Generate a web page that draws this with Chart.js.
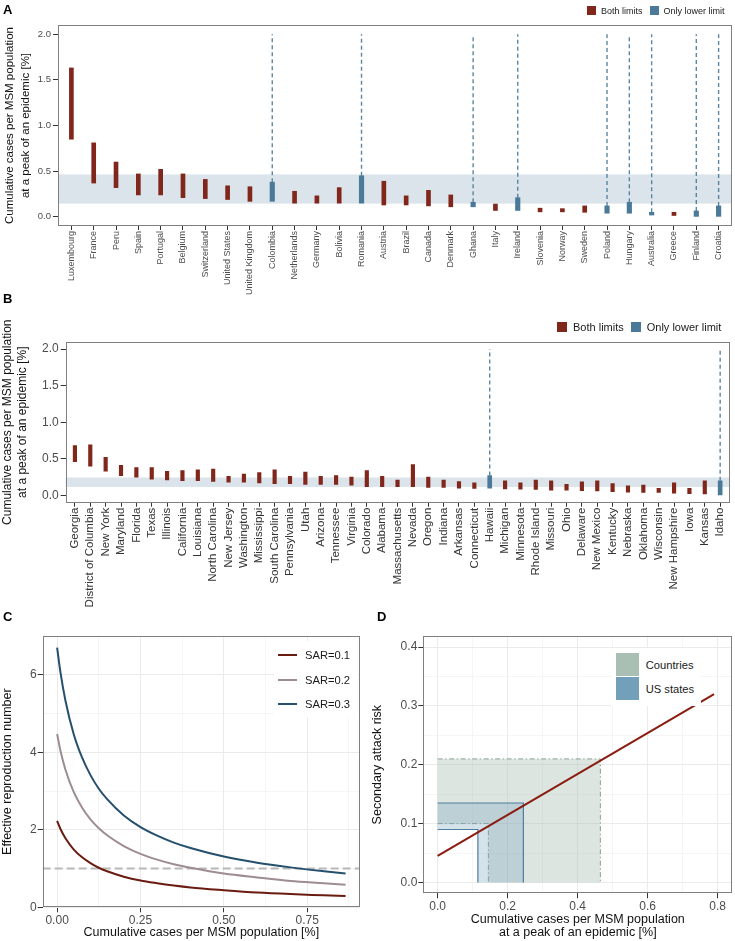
<!DOCTYPE html>
<html><head><meta charset="utf-8">
<script src="https://cdn.jsdelivr.net/npm/chart.js@4.4.1/dist/chart.umd.min.js"></script>
<style>
body{margin:0;background:#fff;width:735px;height:941px;position:relative;overflow:hidden;font-family:"Liberation Sans",Arial,Helvetica,sans-serif;}
canvas{position:absolute;}
.letter{position:absolute;font-weight:bold;font-size:13px;line-height:13px;color:#000;}
.leg{position:absolute;display:flex;align-items:center;color:#1a1a1a;white-space:nowrap;}
.sw{display:inline-block;flex:none;}
.box{position:absolute;background:#fff;}
.row{position:absolute;display:flex;align-items:center;color:#1a1a1a;white-space:nowrap;}
</style></head><body>
<canvas id="cA" width="735" height="300" style="left:0;top:0"></canvas>
<canvas id="cB" width="735" height="312" style="left:0;top:300px"></canvas>
<canvas id="cC" width="367" height="316" style="left:0;top:625px"></canvas>
<canvas id="cD" width="368" height="316" style="left:367px;top:625px"></canvas>

<div class="letter" style="left:3px;top:3.3px">A</div>
<div class="letter" style="left:3px;top:291.6px">B</div>
<div class="letter" style="left:3px;top:610.3px">C</div>
<div class="letter" style="left:377px;top:610.3px">D</div>

<div class="leg" style="left:587px;top:4px;height:13px;font-size:9px">
  <span class="sw" style="width:9px;height:9px;background:#80261b"></span><span style="margin-left:5px">Both limits</span>
  <span class="sw" style="width:9px;height:9px;background:#4a7a98;margin-left:7px"></span><span style="margin-left:5px">Only lower limit</span>
</div>
<div class="leg" style="left:557px;top:320px;height:14px;font-size:11px">
  <span class="sw" style="width:10px;height:10px;background:#80261b"></span><span style="margin-left:6px">Both limits</span>
  <span class="sw" style="width:10px;height:10px;background:#4a7a98;margin-left:7px"></span><span style="margin-left:6px">Only lower limit</span>
</div>

<div class="box" style="left:274px;top:641px;width:84px;height:76px"></div>
<div class="row" style="left:278px;top:647px;height:16px;font-size:11.2px"><span class="sw" style="width:19px;height:2px;background:#6a1b10"></span><span style="margin-left:8px">SAR=0.1</span></div>
<div class="row" style="left:278px;top:671.5px;height:16px;font-size:11.2px"><span class="sw" style="width:19px;height:2px;background:#9d8c93"></span><span style="margin-left:8px">SAR=0.2</span></div>
<div class="row" style="left:278px;top:696px;height:16px;font-size:11.2px"><span class="sw" style="width:19px;height:2px;background:#24506e"></span><span style="margin-left:8px">SAR=0.3</span></div>

<div class="box" style="left:611px;top:648px;width:90px;height:58px"></div>
<div class="row" style="left:615.7px;top:653.3px;height:23px;font-size:11.2px"><span class="sw" style="width:23px;height:23px;background:#a9bfb3"></span><span style="margin-left:7px">Countries</span></div>
<div class="row" style="left:615.7px;top:677.3px;height:23px;font-size:11.2px"><span class="sw" style="width:23px;height:23px;background:#72a0ba"></span><span style="margin-left:7px">US states</span></div>

<script>
// ---------- DATA ----------
const countries = ['Luxembourg','France','Peru','Spain','Portugal','Belgium','Switzerland','United States','United Kingdom','Colombia','Netherlands','Germany','Bolivia','Romania','Austria','Brazil','Canada','Denmark','Ghana','Italy','Ireland','Slovenia','Norway','Sweden','Poland','Hungary','Australia','Greece','Finland','Croatia'];
const countryLow  = [0.85,0.37,0.32,0.24,0.24,0.21,0.20,0.19,0.17,0.17,0.15,0.15,0.15,0.15,0.13,0.13,0.12,0.11,0.11,0.07,0.07,0.055,0.055,0.05,0.04,0.04,0.02,0.015,0.005,0.0];
const countryHigh = [1.63,0.81,0.60,0.47,0.52,0.47,0.41,0.34,0.33,0.38,0.28,0.23,0.32,0.45,0.39,0.23,0.29,0.24,0.16,0.14,0.21,0.095,0.09,0.12,0.12,0.16,0.05,0.05,0.065,0.12];
const countryBoth = [1,1,1,1,1,1,1,1,1,0,1,1,1,0,1,1,1,1,0,1,0,1,1,1,0,0,0,1,0,0];
const countryBand = [0.145, 0.465];

const states = ['Georgia','District of Columbia','New York','Maryland','Florida','Texas','Illinois','California','Louisiana','North Carolina','New Jersey','Washington','Mississippi','South Carolina','Pennsylvania','Utah','Arizona','Tennessee','Virginia','Colorado','Alabama','Massachusetts','Nevada','Oregon','Indiana','Arkansas','Connecticut','Hawaii','Michigan','Minnesota','Rhode Island','Missouri','Ohio','Delaware','New Mexico','Kentucky','Nebraska','Oklahoma','Wisconsin','New Hampshire','Iowa','Kansas','Idaho'];
const stateHigh = [0.68,0.69,0.52,0.41,0.38,0.38,0.33,0.34,0.35,0.36,0.26,0.29,0.31,0.35,0.26,0.32,0.26,0.27,0.25,0.34,0.26,0.21,0.42,0.25,0.21,0.19,0.17,0.27,0.20,0.17,0.21,0.20,0.15,0.185,0.20,0.16,0.13,0.14,0.095,0.17,0.095,0.20,0.20];
const stateLow  = [0.46,0.40,0.33,0.27,0.25,0.22,0.21,0.20,0.20,0.19,0.18,0.18,0.17,0.16,0.16,0.15,0.15,0.15,0.14,0.12,0.12,0.12,0.12,0.11,0.11,0.10,0.095,0.10,0.09,0.086,0.08,0.07,0.07,0.065,0.06,0.05,0.045,0.04,0.04,0.03,0.025,0.02,0.0];
const stateBoth = [1,1,1,1,1,1,1,1,1,1,1,1,1,1,1,1,1,1,1,1,1,1,1,1,1,1,1,0,1,1,1,1,1,1,1,1,1,1,1,1,1,1,0];
const stateBand = [0.115, 0.245];

const openTop = 2.0;                 // dashed "no upper limit" lines reach here
const abTicks = [0, 0.5, 1.0, 1.5, 2.0];

// Panel C: effective reproduction number vs cumulative cases
const cumX  = [0, 0.01, 0.025, 0.05, 0.075, 0.1, 0.125, 0.15, 0.2, 0.25, 0.3, 0.35, 0.4, 0.5, 0.6, 0.7, 0.8, 0.865];
const sar01 = [2.23, 2.02, 1.78, 1.49, 1.29, 1.14, 1.02, 0.93, 0.79, 0.69, 0.62, 0.56, 0.51, 0.44, 0.38, 0.34, 0.31, 0.29];
const sar02 = [4.47, 4.04, 3.55, 2.97, 2.57, 2.27, 2.04, 1.86, 1.58, 1.38, 1.23, 1.11, 1.02, 0.87, 0.77, 0.68, 0.62, 0.58];
const sar03 = [6.70, 6.06, 5.33, 4.46, 3.86, 3.41, 3.06, 2.79, 2.37, 2.07, 1.85, 1.67, 1.53, 1.31, 1.15, 1.03, 0.93, 0.87];
const refR  = 1;

// Panel D: secondary attack risk vs cumulative cases
const sarLineX = [0, 0.79];
const sarLineY = [0.045, 0.32];
const countriesCases = [0.145, 0.465];
const countriesSAR   = [0.10, 0.21];
const statesCases    = [0.115, 0.245];
const statesSAR      = [0.09, 0.135];

// ---------- STYLE ----------
const RED = '#80261b', BLUE = '#4a7a98';
Chart.defaults.font.family = '"Liberation Sans", Arial, Helvetica, sans-serif';
Chart.defaults.animation = false;
Chart.defaults.plugins.legend.display = false;
Chart.defaults.plugins.tooltip.enabled = false;
Chart.defaults.color = '#4d4d4d';

const framePlugin = {
  id: 'frame',
  afterDatasetsDraw(chart, args, opts) {
    const {ctx, chartArea: a} = chart;
    ctx.save();
    ctx.strokeStyle = opts.color || '#808080';
    ctx.lineWidth = 1;
    ctx.strokeRect(Math.round(a.left) + 0.5, Math.round(a.top) + 0.5, Math.round(a.width) - 1, Math.round(a.height) - 1);
    ctx.restore();
  }
};
const bandPlugin = {
  id: 'band',
  beforeDatasetsDraw(chart, args, opts) {
    if (!opts.range) return;
    const {ctx, chartArea: a, scales: {y}} = chart;
    const y0 = y.getPixelForValue(opts.range[0]), y1 = y.getPixelForValue(opts.range[1]);
    ctx.save();
    ctx.fillStyle = 'rgba(74,122,152,0.2)';
    ctx.fillRect(a.left, y1, a.width, y0 - y1);
    ctx.restore();
  }
};
const hlinePlugin = {
  id: 'hline',
  beforeDatasetsDraw(chart, args, opts) {
    if (opts.value === undefined) return;
    const {ctx, chartArea: a, scales: {y}} = chart;
    const py = y.getPixelForValue(opts.value);
    ctx.save();
    ctx.strokeStyle = '#b8b8b8'; ctx.lineWidth = 2; ctx.setLineDash([8, 4]);
    ctx.beginPath(); ctx.moveTo(a.left, py); ctx.lineTo(a.right, py); ctx.stroke();
    ctx.restore();
  }
};
const lshapePlugin = {
  id: 'lshape',
  beforeDatasetsDraw(chart, args, opts) {
    const {ctx, scales: {x, y}} = chart;
    (opts.shapes || []).forEach(s => {
      const [xl, xh] = s.cases, [yl, yh] = s.sar;
      const pts = [[0, yl], [xl, yl], [xl, 0], [xh, 0], [xh, yh], [0, yh]];
      ctx.save();
      ctx.fillStyle = s.fill;
      ctx.beginPath();
      pts.forEach((p, i) => { const px = x.getPixelForValue(p[0]), py = y.getPixelForValue(p[1]); i ? ctx.lineTo(px, py) : ctx.moveTo(px, py); });
      ctx.closePath(); ctx.fill();
      ctx.strokeStyle = s.stroke; ctx.lineWidth = s.width; ctx.setLineDash(s.dash);
      const seg = (list) => { ctx.beginPath(); list.forEach((p, i) => { const px = x.getPixelForValue(p[0]), py = y.getPixelForValue(p[1]); i ? ctx.lineTo(px, py) : ctx.moveTo(px, py); }); ctx.stroke(); };
      seg([[0, yh], [xh, yh], [xh, 0]]);
      seg([[0, yl], [xl, yl], [xl, 0]]);
      ctx.restore();
    });
  }
};

// ---------- PANELS A & B ----------
function rangeChart(id, cats, low, high, both, band, cfg) {
  const bothData = [], lowerData = [], dash = [];
  cats.forEach((c, i) => {
    if (both[i]) bothData.push({x: i, y: [low[i], high[i]]});
    else {
      lowerData.push({x: i, y: [low[i], high[i]]});
      dash.push({x: i, y: high[i]}, {x: i, y: openTop}, {x: i, y: null});
    }
  });
  return new Chart(document.getElementById(id), {
    type: 'bar',
    data: {datasets: [
      {type: 'line', data: dash, borderColor: 'rgba(74,122,152,0.9)', borderWidth: 1.4, borderDash: [4, 3], pointRadius: 0, spanGaps: false, order: 3},
      {data: bothData, backgroundColor: RED, barThickness: cfg.bar, grouped: false, order: 2},
      {data: lowerData, backgroundColor: BLUE, barThickness: cfg.bar + 0.5, grouped: false, order: 1}
    ]},
    options: {
      responsive: false,
      layout: {padding: {top: cfg.top, right: cfg.right, left: 0, bottom: 0}},
      plugins: {band: {range: band}, frame: {color: '#808080'}},
      scales: {
        x: {
          type: 'linear', offset: false, min: -0.6, max: cats.length - 0.4,
          afterBuildTicks: s => { s.ticks = cats.map((c, i) => ({value: i})); },
          ticks: {callback: v => cats[v], autoSkip: false, minRotation: 90, maxRotation: 90, font: {size: cfg.xfont}, color: cfg.xcolor, padding: 1},
          grid: {drawOnChartArea: false, offset: false, tickLength: 4, color: '#333', tickWidth: 1},
          border: {display: false},
          afterFit: s => { s.height = cfg.xh; }
        },
        y: {
          min: -0.1, max: 2.1,
          afterBuildTicks: s => { s.ticks = abTicks.map(v => ({value: v})); },
          ticks: {callback: v => v.toFixed(1), font: {size: cfg.yfont}, color: '#4d4d4d', padding: 2},
          grid: {drawOnChartArea: false, tickLength: 5, color: '#333', tickWidth: 1},
          border: {display: false},
          title: {display: true, text: ['Cumulative cases per MSM population', 'at a peak of an epidemic [%]'], color: '#111', font: {size: cfg.tfont, lineHeight: cfg.tlh}, padding: {top: cfg.tpad, bottom: 0}},
          afterFit: s => { s.width = cfg.yw; }
        }
      }
    },
    plugins: [bandPlugin, framePlugin]
  });
}

rangeChart('cA', countries, countryLow, countryHigh, countryBoth, countryBand,
  {bar: 4, top: 25, right: 3, xh: 74, yw: 58, xfont: 9, xcolor: '#4d4d4d', yfont: 9.5, tfont: 11.5, tlh: 1.35, tpad: 2.5});
rangeChart('cB', states, stateLow, stateHigh, stateBoth, stateBand,
  {bar: 3.5, top: 41.7, right: 3.3, xh: 109.3, yw: 65.7, xfont: 11.5, xcolor: '#333', yfont: 12, tfont: 12, tlh: 1.25, tpad: 0});

// ---------- PANELS C & D ----------
function linScale(min, max, majors, minors, fmt, extra) {
  const all = majors.concat(minors).sort((a, b) => a - b);
  const isMajor = v => majors.some(m => Math.abs(m - v) < 1e-9);
  return Object.assign({
    type: 'linear', min, max,
    afterBuildTicks: s => { s.ticks = all.map(v => ({value: v})); },
    ticks: {callback: v => isMajor(v) ? fmt(v) : '', color: '#4d4d4d', font: {size: 12}, padding: 1, autoSkip: false, maxRotation: 0, minRotation: 0},
    grid: {
      color: '#ebebeb',
      lineWidth: c => (c.tick && isMajor(c.tick.value)) ? 1 : 0.5,
      tickColor: c => (c.tick && isMajor(c.tick.value)) ? '#333' : 'rgba(0,0,0,0)',
      tickWidth: 1, tickLength: 5, drawTicks: true
    },
    border: {display: false}
  }, extra);
}

const curve = (ys) => cumX.map((x, i) => ({x, y: ys[i]}));
new Chart(document.getElementById('cC'), {
  type: 'scatter',
  data: {datasets: [
    {data: curve(sar01), showLine: true, borderColor: '#6a1b10', borderWidth: 2, pointRadius: 0, cubicInterpolationMode: 'monotone'},
    {data: curve(sar02), showLine: true, borderColor: '#9d8c93', borderWidth: 2, pointRadius: 0, cubicInterpolationMode: 'monotone'},
    {data: curve(sar03), showLine: true, borderColor: '#24506e', borderWidth: 2, pointRadius: 0, cubicInterpolationMode: 'monotone'}
  ]},
  options: {
    responsive: false,
    layout: {padding: {top: 11, right: 7, left: 0, bottom: 0}},
    plugins: {hline: {value: refR}, frame: {color: '#808080'}},
    scales: {
      x: linScale(-0.04325, 0.90825, [0, 0.25, 0.5, 0.75], [0.125, 0.375, 0.625, 0.875], v => v.toFixed(2), {
        title: {display: true, text: 'Cumulative cases per MSM population [%]', color: '#111', font: {size: 12.5, lineHeight: 1.1}, padding: {top: 0, bottom: 2}},
        afterFit: s => { s.height = 33.7; }
      }),
      y: linScale(0, 7, [0, 2, 4, 6], [1, 3, 5, 7], v => String(v), {
        title: {display: true, text: 'Effective reproduction number', color: '#111', font: {size: 12.5, lineHeight: 1.1}, padding: {top: 0.5, bottom: 0}},
        afterFit: s => { s.width = 42.7; }
      })
    }
  },
  plugins: [hlinePlugin, framePlugin]
});

new Chart(document.getElementById('cD'), {
  type: 'scatter',
  data: {datasets: [
    {data: sarLineX.map((x, i) => ({x, y: sarLineY[i]})), showLine: true, borderColor: '#8b1c10', borderWidth: 2, pointRadius: 0}
  ]},
  options: {
    responsive: false,
    layout: {padding: {top: 11, right: 2.7, left: 0, bottom: 0}},
    plugins: {
      frame: {color: '#808080'},
      lshape: {shapes: [
        {cases: countriesCases, sar: countriesSAR, fill: 'rgba(169,191,179,0.4)', stroke: '#8aa394', width: 1, dash: [5, 2.5, 1.5, 2.5]},
        {cases: statesCases, sar: statesSAR, fill: 'rgba(114,160,186,0.3)', stroke: '#4f7fa0', width: 1.2, dash: []}
      ]}
    },
    scales: {
      x: linScale(-0.041, 0.842, [0, 0.2, 0.4, 0.6, 0.8], [0.1, 0.3, 0.5, 0.7], v => v.toFixed(1), {
        title: {display: true, text: ['Cumulative cases per MSM population', 'at a peak of an epidemic [%]'], color: '#111', font: {size: 12.5, lineHeight: 1.05}, padding: {top: 0, bottom: 2}},
        afterFit: s => { s.height = 47.7; }
      }),
      y: linScale(-0.0185, 0.419, [0, 0.1, 0.2, 0.3, 0.4], [0.05, 0.15, 0.25, 0.35], v => v.toFixed(1), {
        title: {display: true, text: 'Secondary attack risk', color: '#111', font: {size: 12.5, lineHeight: 1.1}, padding: {top: 4, bottom: 0}},
        afterFit: s => { s.width = 56.3; }
      })
    }
  },
  plugins: [lshapePlugin, framePlugin]
});
</script>
</body></html>
